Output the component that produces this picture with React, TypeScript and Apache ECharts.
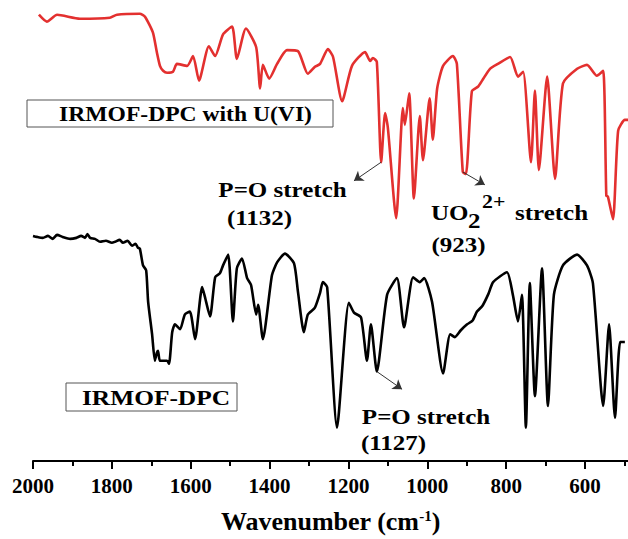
import React, { useEffect, useRef } from "react";
import * as echarts from "echarts";

// Wavenumber (cm-1) and relative transmittance (a.u.)
const redWavenumbers = [
  1985, 1965, 1939, 1881, 1805, 1787, 1729, 1716, 1696, 1686, 1678, 1670, 1660, 1645, 1635, 1609, 1594, 1579,
  1554, 1538, 1518, 1495, 1483, 1460, 1434, 1424, 1417, 1401, 1381, 1356, 1328, 1303, 1285, 1272, 1252, 1239,
  1216, 1191, 1158, 1145, 1138, 1128, 1117, 1107, 1100, 1079, 1062, 1057, 1046, 1034, 1019, 1011, 994, 986,
  975, 960, 935, 925, 910, 902, 887, 871, 861, 841, 821, 790, 770, 757, 737, 727, 717, 696, 676, 656, 620,
  595, 570, 554, 546, 542, 529, 516, 499, 491,
];
const redValues = [
  454, 447, 454, 450, 451, 454, 455, 452, 436, 416, 402, 397, 395, 396, 404, 402, 412, 387,
  422, 412, 434, 442, 409, 440, 421, 379, 403, 389, 404, 418, 417, 394, 401, 404, 419, 411,
  366, 402, 416, 407, 410, 406, 304, 354, 339, 247, 359, 342, 374, 267, 351, 306, 369, 327,
  379, 402, 412, 404, 294, 292, 376, 381, 387, 399, 404, 411, 391, 396, 304, 377, 296, 391, 287, 384, 399,
  403, 392, 397, 270, 269, 246, 336, 347, 347,
];

const blackWavenumbers = [
  2000, 1990, 1975, 1962, 1950, 1939, 1925, 1906, 1890, 1878, 1868, 1862, 1855, 1843, 1830, 1815, 1800, 1792,
  1780, 1772, 1760, 1749, 1740, 1734, 1729, 1721, 1713, 1708, 1698, 1691, 1686, 1683, 1678, 1660, 1655, 1647,
  1640, 1627, 1615, 1602, 1589, 1571, 1564, 1551, 1538, 1526, 1518, 1505, 1493, 1483, 1470, 1457, 1447, 1434,
  1429, 1417, 1394, 1381, 1361, 1338, 1328, 1313, 1303, 1285, 1272, 1265, 1254, 1229, 1199, 1186, 1168, 1153,
  1143, 1128, 1102, 1077, 1059, 1036, 1019, 1008, 988, 960, 942, 930, 915, 899, 885, 874, 860, 845, 833, 798,
  783, 770, 760, 750, 740, 727, 709, 694, 679, 656, 620, 595, 580, 554, 539, 524, 511, 499,
];
const blackValues = [
  229, 228, 227, 229, 226, 230, 228, 226, 227, 229, 227, 231, 227, 226, 223, 224, 222, 223,
  225, 222, 224, 219, 221, 217, 216, 199, 194, 162, 129, 102, 110, 112, 102, 102, 99, 131,
  139, 134, 149, 152, 124, 177, 167, 147, 187, 191, 199, 210, 142, 196, 206, 186, 179, 149,
  159, 124, 189, 202, 211, 201, 172, 131, 149, 156, 171, 182, 177, 34, 161, 151, 146, 102,
  139, 91, 169, 186, 136, 187, 182, 186, 162, 89, 129, 126, 133, 139, 143, 152, 158, 170, 182, 192,
  169, 142, 169, 34, 181, 66, 196, 56, 169, 199, 210, 199, 181, 56, 139, 44, 121, 121,
];

const majorTicks = [2000, 1800, 1600, 1400, 1200, 1000, 800, 600];
const minorTicks = [1900, 1700, 1500, 1300, 1100, 900, 700, 500];

const axisTitle = "Wavenumber (cm";
const axisTitleSup = "-1";

const redLabel = "IRMOF-DPC with U(VI)";
const blackLabel = "IRMOF-DPC";
const poLabel = "P=O stretch";
const redPoValue = "(1132)";
const blackPoValue = "(1127)";
const uoValue = "(923)";

// Arrow anchors: [from wavenumber, from value, to wavenumber, to value]
const redPoArrow = [1117, 304, 1186, 285];
const uoArrow = [910, 294, 854, 281];
const blackPoArrow = [1128, 91, 1064, 73];

const FONT = "Liberation Serif";
const RED = "#e3302f";

function txt(text: string, x: number, y: number, opts: any = {}) {
  return {
    type: "text",
    x,
    y,
    scaleX: opts.scaleX ?? 1.25,
    silent: true,
    style: {
      text,
      x: 0,
      y: 0,
      align: opts.align ?? "center",
      verticalAlign: "middle",
      fill: "#000",
      fontSize: opts.size ?? 20,
      fontWeight: "bold",
      fontFamily: FONT,
    },
  };
}

function arrow(a: number[]) {
  return [{ coord: [a[0], a[1]] }, { coord: [a[2], a[3]] }];
}

export default function App() {
  const ref = useRef<HTMLDivElement>(null);
  useEffect(() => {
    document.body.style.margin = "0";
    if (!ref.current) return;
    const chart = echarts.init(ref.current, null, { renderer: "svg" });
    const markLineBase = {
      silent: true,
      symbol: ["none", "arrow"],
      symbolSize: 9,
      label: { show: false },
      lineStyle: { color: "#333", width: 1, type: "solid" },
      emphasis: { disabled: true },
    };
    chart.setOption({
      animation: false,
      textStyle: { fontFamily: FONT },
      grid: { left: 33, right: 0, top: 0, bottom: 70 },
      xAxis: [
        {
          type: "value",
          inverse: true,
          min: 491,
          max: 2000,
          position: "bottom",
          offset: 0,
          axisLine: { show: true, lineStyle: { color: "#000", width: 2 } },
          axisTick: { show: true, length: 8, lineStyle: { color: "#000", width: 2 }, customValues: majorTicks },
          axisLabel: {
            customValues: majorTicks,
            formatter: (v: number) => String(v),
            fontSize: 21,
            fontWeight: "bold",
            fontFamily: FONT,
            color: "#000",
            margin: 14,
          },
          splitLine: { show: false },
          name: `{a|${axisTitle}}{s|${axisTitleSup}}{a|)}`,
          nameLocation: "middle",
          nameGap: 47,
          nameTextStyle: {
            fontFamily: FONT,
            fontWeight: "bold",
            fontSize: 26,
            rich: {
              a: { fontSize: 26, fontWeight: "bold", fontFamily: FONT, color: "#000" },
              s: { fontSize: 15, fontWeight: "bold", fontFamily: FONT, color: "#000", verticalAlign: "top" },
            },
          },
        },
        {
          type: "value",
          inverse: true,
          min: 491,
          max: 2000,
          position: "bottom",
          offset: 0,
          axisLine: { show: false },
          axisTick: { show: true, length: 5, lineStyle: { color: "#000", width: 2 }, customValues: minorTicks },
          axisLabel: { show: false },
          splitLine: { show: false },
        },
      ],
      yAxis: { type: "value", min: 0, max: 469, show: false },
      series: [
        {
          type: "line",
          name: blackLabel,
          data: blackWavenumbers.map((w, i) => [w, blackValues[i]]),
          showSymbol: false,
          smooth: 0.2,
          lineStyle: { color: "#000", width: 2.6 },
          itemStyle: { color: "#000" },
          markLine: { ...markLineBase, data: [arrow(blackPoArrow)] },
        },
        {
          type: "line",
          name: redLabel,
          data: redWavenumbers.map((w, i) => [w, redValues[i]]),
          showSymbol: false,
          smooth: 0.2,
          lineStyle: { color: RED, width: 2.6 },
          itemStyle: { color: RED },
          markLine: { ...markLineBase, data: [arrow(redPoArrow), arrow(uoArrow)] },
        },
      ],
      graphic: [
        {
          type: "rect",
          silent: true,
          shape: { x: 27, y: 100, width: 306, height: 27 },
          style: { fill: "#fff", stroke: "#555", lineWidth: 1 },
        },
        txt(redLabel, 185.5, 115, { scaleX: 1.18 }),
        {
          type: "rect",
          silent: true,
          shape: { x: 66, y: 383, width: 171, height: 28 },
          style: { fill: "#fff", stroke: "#555", lineWidth: 1 },
        },
        txt(blackLabel, 156, 398, { scaleX: 1.27 }),
        txt(poLabel, 282.5, 190),
        txt(redPoValue, 259.5, 218),
        txt("UO", 431, 213, { align: "left" }),
        txt("2", 468, 221, { align: "left" }),
        txt("2+", 482, 202, { align: "left", size: 19, scaleX: 1.15 }),
        txt("stretch", 515, 213, { align: "left" }),
        txt(uoValue, 458.5, 245),
        txt(poLabel, 426, 417),
        txt(blackPoValue, 393.5, 443),
      ],
    });
    return () => chart.dispose();
  }, []);
  return <div ref={ref} style={{ width: 628, height: 539 }} />;
}
